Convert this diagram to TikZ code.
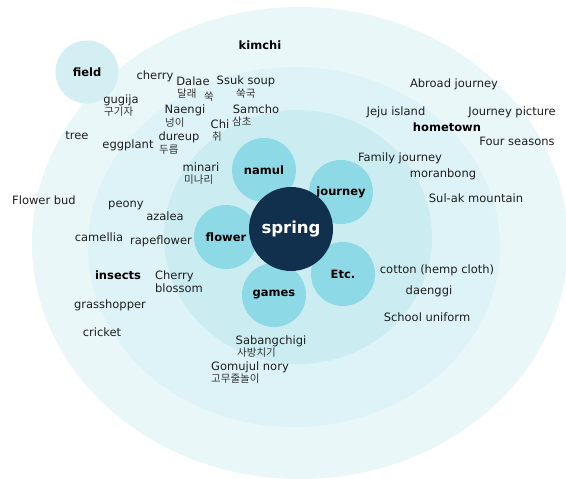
\documentclass[tikz,border=0pt]{standalone}
\usepackage{fontspec}
\setmainfont{DejaVu Sans}
\newfontfamily\kor{Noto Sans CJK KR}
\definecolor{ringA}{HTML}{E9F7F9}
\definecolor{ringB}{HTML}{DEF3F7}
\definecolor{ringC}{HTML}{CBEDF2}
\definecolor{bub}{HTML}{8DD9E5}
\definecolor{fieldc}{HTML}{D3EFF4}
\definecolor{core}{HTML}{11304E}
\definecolor{txt}{HTML}{1E1E1E}
\definecolor{ktxt}{HTML}{333333}
\begin{document}
\begin{tikzpicture}[x=1pt,y=-1pt,
  wd/.style={font=\fontsize{11.5}{12}\selectfont, text=txt, inner sep=0pt},
  kw/.style={font=\kor\fontsize{10.5}{11}\selectfont, text=ktxt, inner sep=0pt, anchor=west},
  bw/.style={font=\bfseries\fontsize{11.5}{12}\selectfont, text=black, inner sep=0pt},
  bubble/.style={circle, fill=bub, minimum size=64pt, inner sep=0pt, font=\bfseries\fontsize{11.5}{12}\selectfont}]
\useasboundingbox (0,0) rectangle (566,479);
\fill[white] (0,0) rectangle (566,479);
\fill[ringA] (300,243) ellipse [x radius=268, y radius=236];
\fill[ringB] (294,247) ellipse [x radius=206, y radius=180];
\fill[ringC] (298,237) ellipse [x radius=134, y radius=127];
\node[circle, fill=fieldc, minimum size=63pt, inner sep=0pt, font=\bfseries\fontsize{11.5}{12}\selectfont] (field) at (87,72) {field};
\node[bubble] (namul) at (264,170) {namul};
\node[bubble] (journey) at (341,192) {journey};
\node[bubble] (flower) at (226,237) {flower};
\node[bubble] (games) at (274,295) {games};
\node[bubble] (etc) at (343,274) {Etc.};
\node[circle, fill=core, minimum size=84pt, inner sep=0pt, text=white, font=\bfseries\fontsize{16.5}{17}\selectfont] (spring) at (291,229) {spring};
% kimchi / namul words
\node[bw] (kimchi) at (260,45) {kimchi};
\node[wd] (cherry) at (155,76) {cherry};
\node[wd] (dalae) at (193,81) {Dalae};
\node[kw] (dalaek) at (177,94) {달래};
\node[kw] (ssuk) at (204,97) {쑥};
\node[wd] (ssuksoup) at (246,81) {Ssuk soup};
\node[kw] (ssukguk) at (236,94) {쑥국};
\node[wd] (gugija) at (121,100) {gugija};
\node[kw] (gugijak) at (104,112) {구기자};
\node[wd] (naengi) at (185,110) {Naengi};
\node[kw] (naengik) at (165,123) {넝이};
\node[wd] (samcho) at (256,109) {Samcho};
\node[kw] (samchok) at (232,122) {삼초};
\node[wd] (chi) at (220,124) {Chi};
\node[kw] (chik) at (212,137) {취};
\node[wd] (tree) at (77,136) {tree};
\node[wd] (eggplant) at (128,145) {eggplant};
\node[wd] (dureup) at (179,137) {dureup};
\node[kw] (dureupk) at (159,150) {두릅};
\node[wd] (minari) at (201,167) {minari};
\node[kw] (minarik) at (184,180) {미나리};
% hometown / journey words
\node[wd] (abroad) at (454,84) {Abroad journey};
\node[wd] (jeju) at (396,112) {Jeju island};
\node[wd] (jpic) at (512,112) {Journey picture};
\node[bw] (hometown) at (447,127) {hometown};
\node[wd] (four) at (517,141) {Four seasons};
\node[wd] (family) at (400,158) {Family journey};
\node[wd] (moran) at (443,174) {moranbong};
\node[wd] (sulak) at (476,198) {Sul-ak mountain};
% flower / insects words
\node[wd] (bud) at (44,200) {Flower bud};
\node[wd] (peony) at (126,205) {peony};
\node[wd] (azalea) at (165,216) {azalea};
\node[wd] (camellia) at (99,237) {camellia};
\node[wd] (rape) at (161,241) {rapeflower};
\node[bw] (insects) at (118,275) {insects};
\node[wd, align=left] (cherryb) at (179,282) {Cherry\\[1pt]blossom};
\node[wd] (grass) at (110,305) {grasshopper};
\node[wd] (cricket) at (102,332) {cricket};
% games words
\node[wd] (sabang) at (271,341) {Sabangchigi};
\node[kw] (sabangk) at (237,353) {사방치기};
\node[wd] (gomu) at (250,367) {Gomujul nory};
\node[kw] (gomuk) at (211,379) {고무줄놀이};
% etc words
\node[wd] (cotton) at (437,270) {cotton (hemp cloth)};
\node[wd] (daenggi) at (429,291) {daenggi};
\node[wd] (school) at (427,317) {School uniform};
\end{tikzpicture}
\end{document}
